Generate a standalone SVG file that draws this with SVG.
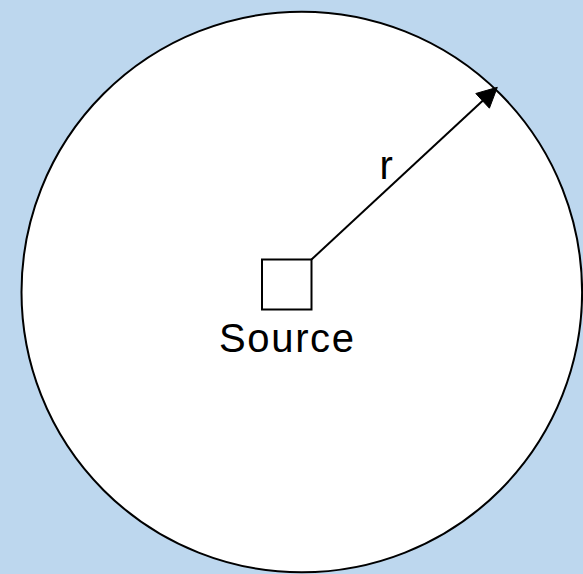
<svg xmlns="http://www.w3.org/2000/svg" width="583" height="574" viewBox="0 0 583 574">
<style>
.ln{stroke:#000;stroke-width:2;fill:none}
.lbl{font-family:"Liberation Sans",Arial,sans-serif;font-size:40px;fill:#000}
</style>
<rect width="583" height="574" fill="#bdd7ee"/>
<g id="area">
<circle cx="301.8" cy="292" r="280.3" fill="#fff" stroke="#000" stroke-width="2"/>
</g>
<g id="source">
<rect x="262" y="259.5" width="49.5" height="50" fill="#fff" stroke="#000" stroke-width="2"/>
<text class="lbl" x="286.5" y="352" text-anchor="middle" textLength="135" lengthAdjust="spacing">Source</text>
</g>
<g id="connectors">
<line class="ln" x1="311.5" y1="259.5" x2="484" y2="99.6"/>
<polygon points="497.3,87.3 489.4,108.2 475.8,93.5" fill="#000" stroke="#000" stroke-width="1"/>
<text class="lbl" x="379.5" y="179">r</text>
</g>
</svg>
